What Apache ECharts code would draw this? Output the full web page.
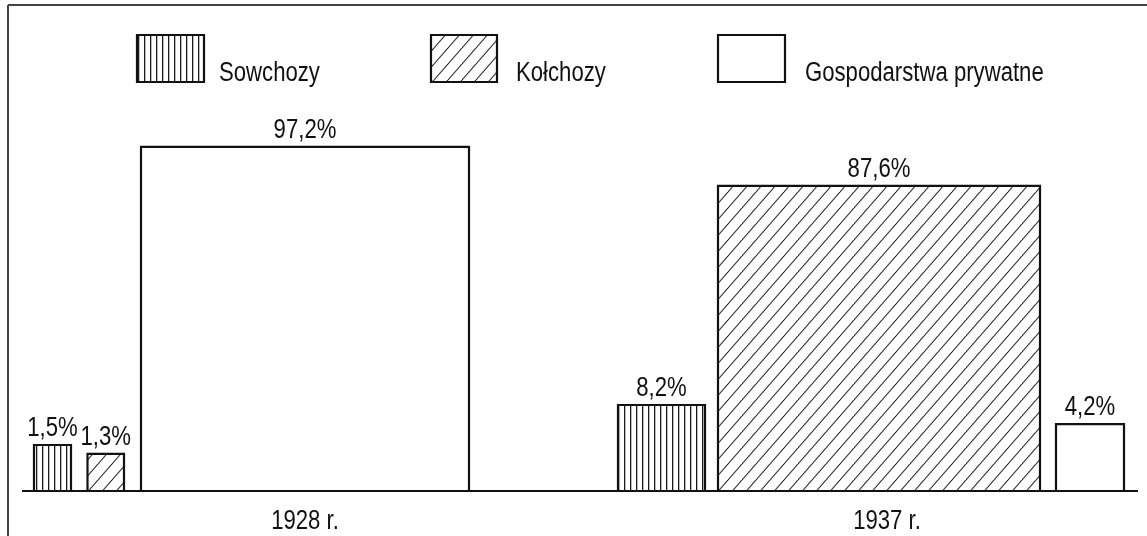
<!DOCTYPE html>
<html><head><meta charset="utf-8">
<script src="https://cdn.jsdelivr.net/npm/echarts@6/dist/echarts.min.js"></script>
<style>html,body{margin:0;padding:0;background:#fff}#c{width:1147px;height:536px}</style>
</head><body><div id="c"></div>
<script>
// ---- data ----
const years = ['1928 r.', '1937 r.'];
const farmTypes = ['Sowchozy', 'Kołchozy', 'Gospodarstwa prywatne'];
// shares printed on the bars (%)
const sowchozy = [1.5, 8.2];
const kolchozy = [1.3, 87.6];
const prywatne = [97.2, 4.2];
// bar heights as drawn in the picture (schematic, not to scale), in % units of the 97,2% bar
const sowchozyDrawn = [13.0, 24.3];
const kolchozyDrawn = [10.5, 86.2];
const prywatneDrawn = [97.2, 18.9];

// ---- layout (not data) ----
const FONT = '"Liberation Sans", Arial, sans-serif';
const FS = 27;
const NARROW = 0.82;
const INK = '#111';
const spans = [
  [[34, 71], [618, 705]],
  [[87.5, 124], [718, 1040]],
  [[141, 469], [1056, 1124]]
];
const baseSpan = [22, 1138];
const yearCenters = [305, 887];
const legendBoxes = [[137, 35, 67, 47], [431, 35, 66, 47], [718, 35, 67, 47]];
const legendTextX = [219, 516, 805];
const legendTextY = 74;

function txt(x, y, text, align, vAlign, extra) {
  return Object.assign({type: 'text', x: x, y: y, scaleX: NARROW,
    style: {x: 0, y: 0, text: text, align: align, verticalAlign: vAlign, fontSize: FS, fontFamily: FONT, fill: INK}}, extra || {});
}
function vPattern() {
  const c = document.createElement('canvas'); c.width = 6; c.height = 6;
  const g = c.getContext('2d'); g.fillStyle = '#fff'; g.fillRect(0, 0, 6, 6);
  g.fillStyle = '#1a1a1a'; g.fillRect(0, 0, 1.3, 6);
  return {image: c, repeat: 'repeat'};
}
function dPattern() {
  const w = 14, h = 16;
  const c = document.createElement('canvas'); c.width = w; c.height = h;
  const g = c.getContext('2d'); g.fillStyle = '#fff'; g.fillRect(0, 0, w, h);
  g.strokeStyle = '#2a2a2a'; g.lineWidth = 1.1;
  for (const o of [-w, 0, w]) { g.beginPath(); g.moveTo(o, h); g.lineTo(o + w, 0); g.stroke(); }
  return {image: c, repeat: 'repeat'};
}
const patterns = [vPattern(), dPattern(), '#fff'];
const fmt = v => v.toFixed(1).replace('.', ',') + '%';

function makeSeries(k, shares, drawn) {
  return {
    type: 'custom', name: farmTypes[k], coordinateSystem: 'cartesian2d',
    data: drawn.map((h, i) => [i, h, shares[i]]),
    renderItem(params, api) {
      const i = api.value(0), h = api.value(1), share = api.value(2);
      const p0 = api.coord([spans[k][i][0], h]);
      const p1 = api.coord([spans[k][i][1], 0]);
      return {type: 'group', children: [
        {type: 'rect', shape: {x: p0[0], y: p0[1], width: p1[0] - p0[0], height: p1[1] - p0[1]},
         style: {fill: patterns[k], stroke: INK, lineWidth: 2.2}},
        txt((p0[0] + p1[0]) / 2, p0[1] - 3, fmt(share), 'center', 'bottom')
      ]};
    }
  };
}

const chart = echarts.init(document.getElementById('c'));
const graphic = [
  {type: 'line', shape: {x1: 8, y1: 5, x2: 1147, y2: 5}, style: {stroke: '#444', lineWidth: 2}},
  {type: 'line', shape: {x1: 8, y1: 5, x2: 8, y2: 536}, style: {stroke: '#444', lineWidth: 2}}
];
farmTypes.forEach((n, k) => {
  const b = legendBoxes[k];
  graphic.push({type: 'rect', shape: {x: b[0], y: b[1], width: b[2], height: b[3]},
    style: {fill: patterns[k], stroke: INK, lineWidth: 2.2}});
  graphic.push(txt(legendTextX[k], legendTextY, n, 'left', 'middle'));
});

chart.setOption({
  animation: false,
  backgroundColor: '#fff',
  grid: {left: 0, right: 0, top: 137, bottom: 45},
  xAxis: {type: 'value', min: 0, max: 1147, show: false},
  yAxis: {type: 'value', min: 0, max: 100, show: false},
  graphic: graphic,
  series: [
    makeSeries(0, sowchozy, sowchozyDrawn),
    makeSeries(1, kolchozy, kolchozyDrawn),
    makeSeries(2, prywatne, prywatneDrawn),
    {
      type: 'custom', name: 'axis', coordinateSystem: 'cartesian2d', z: 5,
      data: [[0, 0]],
      renderItem(params, api) {
        const a = api.coord([baseSpan[0], 0]), b = api.coord([baseSpan[1], 0]);
        const kids = [{type: 'line', shape: {x1: a[0], y1: a[1], x2: b[0], y2: b[1]}, style: {stroke: INK, lineWidth: 2.2}}];
        years.forEach((y, i) => {
          const p = api.coord([yearCenters[i], 0]);
          kids.push(txt(p[0], p[1] + 31, y, 'center', 'middle'));
        });
        return {type: 'group', children: kids};
      }
    }
  ]
});
</script></body></html>
